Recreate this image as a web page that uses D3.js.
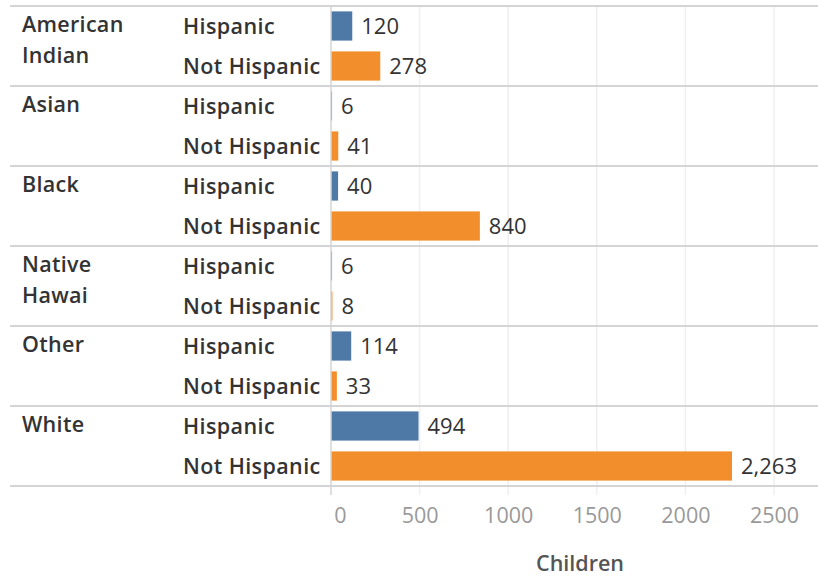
<!DOCTYPE html>
<html>
<head>
<meta charset="utf-8">
<script src="https://cdn.jsdelivr.net/npm/d3@7"></script>
<style>
  html, body { margin: 0; padding: 0; background: #fff; }
  svg { display: block; }
  text { font-family: "Open Sans", "Noto Sans", sans-serif; }
</style>
</head>
<body>
<svg id="chart" width="818" height="578"></svg>
<script>
// Children by race and Hispanic origin
const races = ["American Indian", "Asian", "Black", "Native Hawai", "Other", "White"];
const raceLines = [["American", "Indian"], ["Asian"], ["Black"], ["Native", "Hawai"], ["Other"], ["White"]];
const ethnicities = ["Hispanic", "Not Hispanic"];
const hispanic = [120, 6, 40, 6, 114, 494];
const notHispanic = [278, 41, 840, 8, 33, 2263];
const xTicks = [0, 500, 1000, 1500, 2000, 2500];
const colors = { "Hispanic": "#4e79a7", "Not Hispanic": "#f28e2b" };

const rows = [];
races.forEach((r, i) => {
  rows.push({ race: r, eth: "Hispanic", value: hispanic[i] });
  rows.push({ race: r, eth: "Not Hispanic", value: notHispanic[i] });
});

const svg = d3.select("#chart");
const plotTop = 6, plotBottom = 486, plotLeft = 10, plotRight = 818;
const x0 = 331;
const fs = 21.5;

const x = d3.scaleLinear().domain([0, 2500]).range([x0, x0 + 443]);
const yGroup = d3.scaleBand().domain(races).range([plotTop, plotBottom]).padding(0);
const yInner = d3.scaleBand().domain(ethnicities).range([0, yGroup.bandwidth()])
  .paddingInner(0.27).paddingOuter(0.135);
const rowMid = d => yGroup(d.race) + yInner(d.eth) + yInner.bandwidth() / 2;

// vertical gridlines
svg.append("g").selectAll("line").data(xTicks.slice(1)).join("line")
  .attr("x1", d => x(d)).attr("x2", d => x(d))
  .attr("y1", plotTop).attr("y2", plotBottom + 9)
  .attr("stroke", "#efefef").attr("stroke-width", 1.5);

// bars
const g = svg.append("g");
g.selectAll("rect").data(rows).join("rect")
  .attr("x", x(0))
  .attr("y", d => yGroup(d.race) + yInner(d.eth))
  .attr("width", d => x(d.value) - x(0))
  .attr("height", yInner.bandwidth())
  .attr("fill", d => colors[d.eth]);

// value labels
g.selectAll("text.val").data(rows).join("text")
  .attr("class", "val")
  .attr("x", d => x(d.value) + 9)
  .attr("y", rowMid)
  .attr("dy", "0.36em")
  .attr("font-size", 22)
  .attr("fill", "#333")
  .text(d => d3.format(",")(d.value));

// ethnicity labels
g.selectAll("text.eth").data(rows).join("text")
  .attr("class", "eth")
  .attr("x", 183)
  .attr("y", rowMid)
  .attr("dy", "0.36em")
  .attr("font-size", fs)
  .attr("font-weight", 600)
  .attr("letter-spacing", 0.4)
  .attr("fill", "#333")
  .text(d => d.eth);

// race labels (wrapped onto two lines where needed)
const rl = g.selectAll("text.race").data(races).join("text")
  .attr("class", "race")
  .attr("y", d => yGroup(d) + yInner("Hispanic") + yInner.bandwidth() / 2 - 2)
  .attr("font-size", fs)
  .attr("font-weight", 600)
  .attr("letter-spacing", 0.3)
  .attr("fill", "#333");
rl.selectAll("tspan").data((d, i) => raceLines[i]).join("tspan")
  .attr("x", 22)
  .attr("dy", (d, i) => i === 0 ? "0.36em" : "31px")
  .text(d => d);

// horizontal separators
svg.append("g").selectAll("line").data(races.map(r => yGroup(r)).concat([plotBottom])).join("line")
  .attr("x1", plotLeft).attr("x2", plotRight)
  .attr("y1", d => d).attr("y2", d => d)
  .attr("stroke", "#d4d4d4").attr("stroke-width", 2);

// zero line
svg.append("line")
  .attr("x1", x0).attr("x2", x0)
  .attr("y1", plotTop).attr("y2", plotBottom + 9)
  .attr("stroke", "#d4d4d4").attr("stroke-width", 1.5);

// x axis
const axis = svg.append("g").attr("transform", `translate(0,${plotBottom})`)
  .call(d3.axisBottom(x).tickValues(xTicks).tickFormat(d3.format("d")).tickSize(0).tickPadding(22));
axis.select(".domain").remove();
axis.selectAll("text")
  .attr("font-size", fs)
  .attr("fill", "#999")
  .attr("font-family", "\"Open Sans\", sans-serif")
  .attr("dx", d => d === 0 ? 9 : 0);

// axis title
svg.append("text")
  .attr("x", 580).attr("y", 563)
  .attr("dy", "0.36em")
  .attr("text-anchor", "middle")
  .attr("font-size", fs)
  .attr("font-weight", 600)
  .attr("fill", "#555")
  .text("Children");
</script>
</body>
</html>
